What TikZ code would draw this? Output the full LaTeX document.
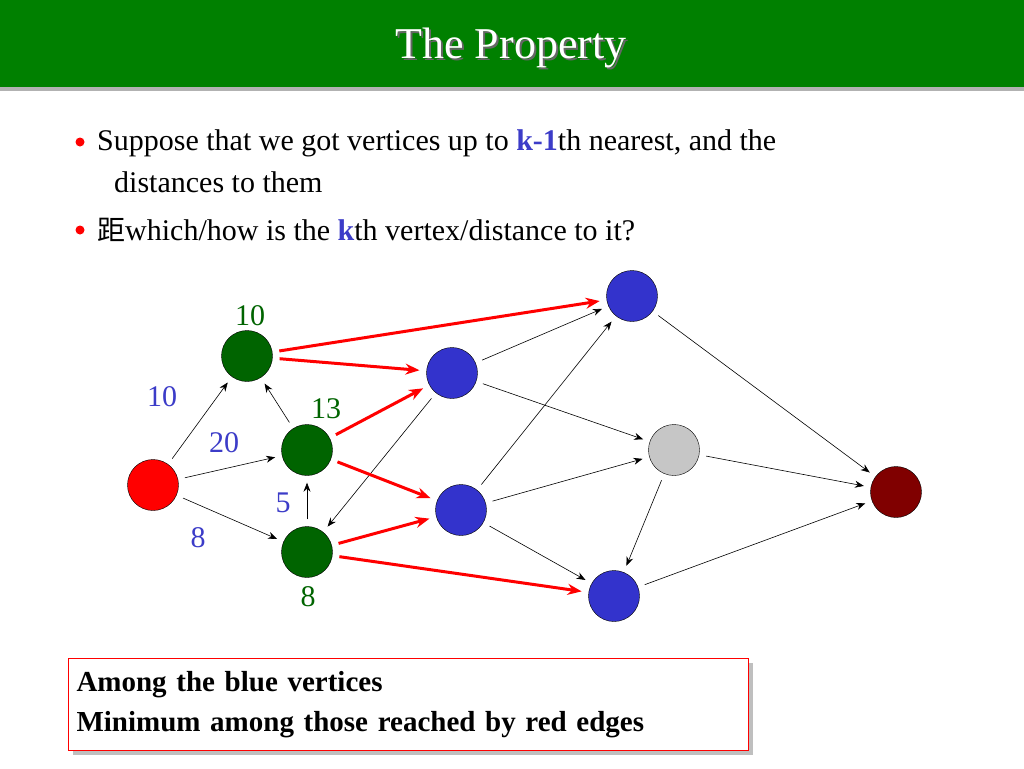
\documentclass[tikz,border=0pt]{standalone}
\usepackage{fontspec}
\setmainfont{Liberation Serif}
\newfontfamily\cjk{Noto Sans CJK SC}
\usetikzlibrary{arrows.meta}
\definecolor{titlegreen}{RGB}{0,128,0}
\definecolor{nodegreen}{RGB}{0,100,0}
\definecolor{nodeblue}{RGB}{51,51,204}
\definecolor{labblue}{RGB}{60,60,200}
\definecolor{darkred}{RGB}{128,0,0}
\tikzset{vert/.style={circle, draw=black, minimum size=51pt, inner sep=0pt},
  edge/.style={-{Stealth[length=9pt,width=7pt]}, line width=0.6pt, shorten <=7pt, shorten >=7pt},
  redge/.style={-{Stealth[length=14pt,width=11pt]}, line width=3pt, red, shorten <=7pt, shorten >=7pt},
  dlab/.style={text=labblue, font=\fontsize{30}{30}\selectfont},
  glab/.style={text=nodegreen, font=\fontsize{30}{30}\selectfont}}
\begin{document}
\begin{tikzpicture}[x=1pt,y=-1pt]
\useasboundingbox (0,0) rectangle (1024,768);
\fill[white] (0,0) rectangle (1024,768);
% title bar
\fill[titlegreen] (0,0) rectangle (1024,87);
\fill[gray!60] (0,87) rectangle (1024,91);
\node[text=black!60] at (513,50) {\fontsize{44}{44}\selectfont The Property};
\node (title) [text=white] at (511,48) {\fontsize{44}{44}\selectfont The Property};
% bullets
\fill[red] (80,142) circle (4.5pt);
\fill[red] (80,230) circle (4.5pt);
\node (b1) [anchor=base west, font=\fontsize{30}{36}\selectfont, inner sep=0pt] at (97,150)
  {Suppose that we got vertices up to \textcolor{labblue}{\textbf{k-1}}th nearest, and the};
\node (b1b) [anchor=base west, font=\fontsize{30}{36}\selectfont, inner sep=0pt] at (114,192)
  {distances to them};
\node (b2) [anchor=base west, font=\fontsize{30}{36}\selectfont, inner sep=0pt] at (97,240)
  {{\cjk\fontsize{28}{28}\selectfont 距}which/how is the \textcolor{labblue}{\textbf{k}}th vertex/distance to it?};
% vertices
\node (s) [vert, fill=red] at (153,485) {};
\node (a) [vert, fill=nodegreen] at (247,356) {};
\node (b) [vert, fill=nodegreen] at (307,450) {};
\node (c) [vert, fill=nodegreen] at (307,552) {};
\node (d) [vert, fill=nodeblue] at (452,373) {};
\node (e) [vert, fill=nodeblue] at (461,510) {};
\node (f) [vert, fill=nodeblue] at (614,596) {};
\node (g) [vert, fill=nodeblue] at (632,296) {};
\node (h) [vert, fill=gray!45] at (674,450) {};
\node (t) [vert, fill=darkred] at (896,492) {};
% black edges
\draw [edge] (s) -- (a);
\draw [edge] (s) -- (b);
\draw [edge] (s) -- (c);
\draw [edge] (b) -- (a);
\draw [edge] (c) -- (b);
\draw [edge] (d) -- (c);
\draw [edge] (d) -- (g);
\draw [edge] (d) -- (h);
\draw [edge] (e) -- (g);
\draw [edge] (e) -- (h);
\draw [edge] (e) -- (f);
\draw [edge] (g) -- (t);
\draw [edge] (h) -- (t);
\draw [edge] (h) -- (f);
\draw [edge] (f) -- (t);
% red edges
\draw [redge] (a) -- (g);
\draw [redge] (a) -- (d);
\draw [redge] (b) -- (d);
\draw [redge] (b) -- (e);
\draw [redge] (c) -- (e);
\draw [redge] (c) -- (f);
% labels
\node (la) [glab] at (250,316) {10};
\node (lb) [glab] at (326,409) {13};
\node (lc) [glab] at (308,597) {8};
\node (wa) [dlab] at (162,397) {10};
\node (wb) [dlab] at (224,443) {20};
\node (wc) [dlab] at (198,538) {8};
\node (wcb) [dlab] at (283,503) {5};
% answer box
\fill[gray!50] (73,663) rectangle (753,755);
\node (box) [draw=red, line width=1pt, fill=white, minimum width=680pt, minimum height=92pt, anchor=north west,
  align=left, text width=664pt, font=\bfseries\fontsize{29}{40}\selectfont] at (68,658)
  {Among the blue vertices\\Minimum among those reached by red edges};
\end{tikzpicture}
\end{document}
